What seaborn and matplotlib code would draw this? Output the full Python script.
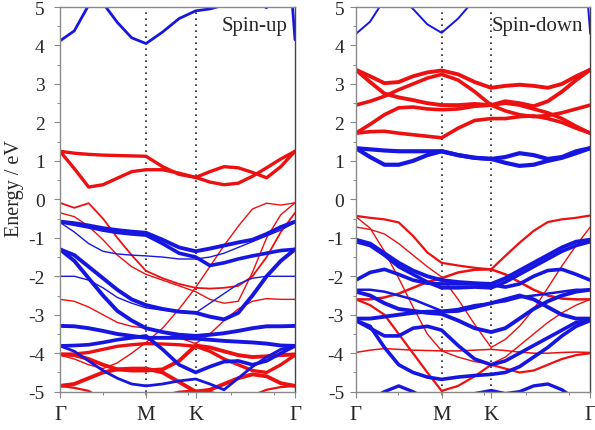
import matplotlib
matplotlib.use('Agg')
import matplotlib.pyplot as plt
from matplotlib.ticker import MultipleLocator
import seaborn as sns

sns.set_style('ticks')
plt.rcParams['font.family'] = ['Liberation Serif', 'DejaVu Serif']
plt.rcParams['axes.unicode_minus'] = False

# k-path sample points: G-M (6 steps), M-K (3 steps), K-G (7 steps)
K_PTS = [0.0, 0.0962, 0.1925, 0.2887, 0.3849, 0.4811, 0.5774,
         0.6885, 0.7996, 0.9107,
         1.0059, 1.1012, 1.1964, 1.2917, 1.3869, 1.4821, 1.5774]
K_TICKS = [0.0, 0.5774, 0.9107, 1.5774]
K_LABELS = ['Γ', 'M', 'K', 'Γ']
E_TICKS = [5, 4, 3, 2, 1, 0, -1, -2, -3, -4, -5]

# spin-up, red bands
UP_RED = [
    [1.25, 1.2, 1.17, 1.15, 1.14, 1.13, 1.12, 0.85, 0.65, 0.57, 0.45, 0.38, 0.42, 0.6, 0.82, 1.05, 1.25],
    [1.25, 0.8, 0.32, 0.38, 0.55, 0.72, 0.77, 0.77, 0.68, 0.57, 0.72, 0.85, 0.82, 0.7, 0.56, 0.85, 1.25],
    [-0.09, -0.22, -0.1, -0.5, -1.0, -1.45, -1.86, -2.05, -2.2, -2.3, -2.32, -2.3, -2.25, -2.0, -1.5, -0.85, -0.35],
    [-4.05, -4.15, -4.3, -4.4, -4.25, -4.0, -3.72, -3.35, -2.85, -2.29, -1.75, -1.2, -0.7, -0.25, -0.1, -0.15, -0.09],
    [-0.35, -0.45, -0.7, -1.05, -1.45, -1.75, -1.95, -2.1, -2.25, -2.4, -2.6, -2.7, -2.65, -1.9, -1.0, -0.4, -0.09],
    [-2.6, -2.65, -2.8, -3.0, -3.2, -3.3, -3.35, -3.45, -3.6, -3.75, -3.5, -3.15, -2.85, -2.65, -2.58, -2.6, -2.6],
    [-4.03, -4.05, -4.15, -4.3, -4.42, -4.45, -4.45, -4.42, -4.2, -3.8, -3.85, -3.95, -4.05, -4.1, -4.08, -4.05, -4.03],
    [-4.03, -4.02, -3.98, -3.9, -3.82, -3.78, -3.75, -3.76, -3.78, -3.82, -3.95, -4.15, -4.3, -4.45, -4.5, -4.3, -4.05],
    [-4.85, -4.8, -4.65, -4.5, -4.42, -4.4, -4.4, -4.5, -4.75, -5.0, -4.95, -4.8, -4.65, -4.55, -4.6, -4.78, -4.85],
    [-4.85, -4.9, -4.98, -5.2, -5.3, -5.3, -5.2, -5.1, -5.0, -4.97, -5.0, -5.1, -5.2, -5.1, -4.95, -4.88, -4.85],
]
UP_RED_LW = [2.4, 2.4, 1.3, 1.0, 1.0, 1.0, 2.8, 2.4, 2.8, 1.6]

# spin-up, blue bands
UP_BLUE = [
    [4.12, 4.38, 5.05, 5.1, 4.6, 4.2, 4.05, 4.35, 4.7, 4.9, 4.95, 5.05, 5.3, 5.2, 4.98, 9.0, 4.15],
    [-0.58, -0.62, -0.68, -0.75, -0.8, -0.84, -0.87, -1.05, -1.25, -1.35, -1.28, -1.2, -1.12, -1.05, -0.9, -0.72, -0.58],
    [-0.58, -0.65, -0.72, -0.8, -0.86, -0.9, -0.93, -1.15, -1.4, -1.5, -1.72, -1.65, -1.55, -1.47, -1.4, -1.33, -1.3],
    [-0.6, -0.85, -1.15, -1.35, -1.42, -1.45, -1.47, -1.5, -1.55, -1.55, -1.5, -1.4, -1.25, -1.1, -0.95, -0.8, -0.6],
    [-1.3, -1.45, -1.75, -2.05, -2.35, -2.6, -2.75, -2.85, -2.92, -2.95, -3.05, -3.12, -2.95, -2.5, -2.0, -1.6, -1.3],
    [-1.3, -1.6, -2.05, -2.5, -2.9, -3.15, -3.35, -3.45, -3.52, -3.55, -3.52, -3.48, -3.42, -3.35, -3.3, -3.3, -3.29],
    [-2.0, -2.0, -2.1, -2.3, -2.55, -2.7, -2.82, -2.88, -2.92, -2.95, -2.7, -2.45, -2.2, -2.05, -2.0, -2.0, -2.0],
    [-3.29, -3.3, -3.35, -3.42, -3.5, -3.55, -3.6, -3.6, -3.6, -3.62, -3.65, -3.68, -3.7, -3.72, -3.75, -3.8, -3.81],
    [-3.81, -3.8, -3.78, -3.72, -3.65, -3.6, -3.55, -3.9, -4.3, -4.5, -4.35, -4.22, -4.2, -4.3, -4.2, -4.0, -3.81],
    [-3.81, -3.95, -4.2, -4.45, -4.65, -4.8, -4.85, -4.8, -4.72, -4.67, -4.8, -4.95, -4.65, -4.35, -4.1, -3.9, -3.81],
]
UP_BLUE_LW = [2.0, 2.8, 2.6, 1.0, 2.8, 2.8, 1.0, 2.8, 2.6, 2.0]

# spin-down, red bands
DOWN_RED = [
    [3.37, 3.2, 3.02, 3.05, 3.2, 3.3, 3.35, 3.25, 3.05, 2.9, 2.95, 2.98, 2.95, 2.9, 3.0, 3.2, 3.37],
    [3.37, 3.05, 2.75, 2.65, 2.58, 2.5, 2.45, 2.45, 2.48, 2.45, 2.55, 2.5, 2.42, 2.55, 2.8, 3.1, 3.37],
    [2.45, 2.55, 2.68, 2.85, 3.0, 3.15, 3.25, 3.1, 2.8, 2.45, 2.3, 2.2, 2.15, 2.18, 2.25, 2.35, 2.45],
    [1.72, 1.95, 2.2, 2.38, 2.4, 2.35, 2.33, 2.35, 2.42, 2.45, 2.5, 2.45, 2.35, 2.25, 2.1, 1.9, 1.72],
    [1.72, 1.76, 1.77, 1.72, 1.68, 1.64, 1.6, 1.85, 2.05, 2.1, 2.1, 2.15, 2.17, 2.1, 2.0, 1.85, 1.72],
    [-0.43, -0.48, -0.52, -0.6, -0.95, -1.38, -1.65, -1.72, -1.78, -1.82, -1.47, -1.13, -0.82, -0.59, -0.52, -0.48, -0.42],
    [-0.72, -0.78, -0.9, -1.15, -1.45, -1.75, -2.02, -2.6, -3.25, -3.85, -3.64, -3.3, -2.86, -2.3, -1.73, -1.2, -0.72],
    [-2.6, -2.6, -2.55, -2.45, -2.3, -2.15, -2.05, -1.9, -1.83, -1.82, -1.95, -2.15, -2.35, -2.5, -2.58, -2.6, -2.6],
    [-2.6, -2.75, -3.0, -3.5, -4.0, -4.5, -4.98, -4.85, -4.6, -4.3, -4.4, -4.5, -4.45, -4.3, -4.15, -4.05, -4.0],
    [-3.98, -3.92, -3.88, -3.9, -3.92, -3.93, -3.94, -3.94, -3.92, -3.9, -3.93, -3.97, -4.0, -4.0, -3.98, -3.97, -3.98],
    [-0.45, -0.75, -1.35, -2.05, -2.8, -3.5, -3.94, -4.1, -4.22, -4.28, -4.1, -3.8, -3.5, -3.2, -2.95, -2.75, -2.6],
]
DOWN_RED_LW = [2.8, 2.8, 2.6, 2.6, 2.6, 1.6, 1.0, 1.8, 1.6, 1.1, 1.0]

# spin-down, blue bands
DOWN_BLUE = [
    [4.3, 4.62, 5.2, 5.3, 4.95, 4.55, 4.33, 4.7, 5.2, 5.5, 5.6, 5.7, 5.6, 5.3, 5.0, 9.0, 4.3],
    [1.33, 1.3, 1.27, 1.25, 1.25, 1.25, 1.25, 1.15, 1.08, 1.05, 1.1, 1.2, 1.15, 1.05, 1.1, 1.25, 1.33],
    [1.33, 1.1, 0.9, 0.9, 1.0, 1.15, 1.25, 1.15, 1.08, 1.05, 0.95, 0.87, 0.9, 1.0, 1.08, 1.2, 1.33],
    [-1.05, -1.15, -1.4, -1.65, -1.85, -2.0, -2.1, -2.15, -2.18, -2.2, -2.05, -1.85, -1.65, -1.45, -1.25, -1.1, -1.05],
    [-1.1, -1.2, -1.45, -1.75, -1.95, -2.15, -2.3, -2.3, -2.28, -2.3, -2.15, -1.95, -1.75, -1.55, -1.35, -1.2, -1.1],
    [-2.1, -1.9, -1.82, -1.95, -2.1, -2.18, -2.2, -2.2, -2.2, -2.22, -2.28, -2.2, -2.0, -1.85, -1.82, -1.95, -2.1],
    [-2.35, -2.35, -2.4, -2.5, -2.6, -2.75, -2.9, -2.85, -2.75, -2.7, -2.65, -2.55, -2.5, -2.45, -2.4, -2.35, -2.35],
    [-2.4, -2.5, -2.7, -2.85, -2.9, -2.95, -2.98, -3.15, -3.35, -3.45, -3.35, -3.1, -2.85, -2.65, -2.5, -2.4, -2.35],
    [-3.1, -3.1, -3.05, -3.0, -2.95, -2.92, -2.92, -2.9, -2.8, -2.7, -2.6, -2.5, -2.6, -2.8, -3.0, -3.1, -3.1],
    [-3.15, -3.35, -3.55, -3.55, -3.35, -3.3, -3.4, -3.8, -4.15, -4.3, -4.2, -4.0, -3.8, -3.6, -3.4, -3.2, -3.15],
    [-3.15, -3.3, -3.85, -4.3, -4.5, -4.62, -4.68, -4.62, -4.58, -4.55, -4.5, -4.35, -4.1, -3.85, -3.55, -3.3, -3.15],
    [-5.3, -5.2, -5.0, -4.85, -5.0, -5.2, -5.3, -5.2, -5.05, -4.97, -5.05, -5.0, -4.85, -4.8, -4.95, -5.2, -5.3],
]
DOWN_BLUE_LW = [1.4, 3.0, 3.0, 2.8, 2.6, 2.6, 1.8, 2.8, 2.8, 2.6, 2.6, 2.4]

RED = '#ec1010'
BLUE = '#1616e0'


def draw_bands(ax, bands, widths, color):
    for vals, lw in zip(bands, widths):
        sns.lineplot(x=K_PTS, y=vals, color=color, lw=lw, ax=ax,
                     solid_capstyle='round', solid_joinstyle='round')


def setup_axes(ax, label, pad):
    ax.set_xlim(K_PTS[0], K_PTS[-1])
    ax.set_ylim(-5, 5)
    ax.set_xticks(K_TICKS)
    ax.set_xticklabels(K_LABELS, fontsize=15)
    ax.set_xticks([0.287, 0.574, 0.861, 1.148, 1.435], minor=True)
    ax.set_yticks(E_TICKS)
    ax.set_yticklabels([str(e) for e in E_TICKS], fontsize=14)
    ax.yaxis.set_minor_locator(MultipleLocator(0.5))
    ax.tick_params(axis='both', which='major', direction='out', length=4.5,
                   width=0.8, color='#888888')
    ax.tick_params(axis='y', which='major', pad=pad)
    ax.tick_params(axis='x', which='major', pad=5)
    ax.tick_params(axis='both', which='minor', direction='out', length=2.5,
                   width=0.7, color='#888888')
    for v in K_TICKS[1:3]:
        ax.axvline(v, color='#222222', ls=(0, (1, 2.6)), lw=1.2, zorder=1)
    for side in ['left', 'bottom', 'top']:
        ax.spines[side].set_color('#8a8a8a')
        ax.spines[side].set_linewidth(1.0)
    ax.spines['right'].set_color('#444444')
    ax.spines['right'].set_linewidth(1.0)
    ax.text(0.968, 0.952, label, transform=ax.transAxes, ha='right',
            va='center', fontsize=15, zorder=5)
    ax.set_xlabel('')
    ax.set_ylabel('')


fig = plt.figure(figsize=(5.95, 4.31), dpi=100)
ax1 = fig.add_axes([0.1008, 0.0889, 0.395, 0.8925])
ax2 = fig.add_axes([0.598, 0.0889, 0.394, 0.8925])

draw_bands(ax1, UP_RED, UP_RED_LW, RED)
draw_bands(ax1, UP_BLUE, UP_BLUE_LW, BLUE)
draw_bands(ax2, DOWN_RED, DOWN_RED_LW, RED)
draw_bands(ax2, DOWN_BLUE, DOWN_BLUE_LW, BLUE)

setup_axes(ax1, 'Spin-up', 6.5)
setup_axes(ax2, 'Spin-down', 4)
ax1.set_ylabel('Energy / eV', fontsize=14.5)
ax1.yaxis.set_label_coords(-0.155, 0.53)

fig.savefig('out.png', dpi=100)
